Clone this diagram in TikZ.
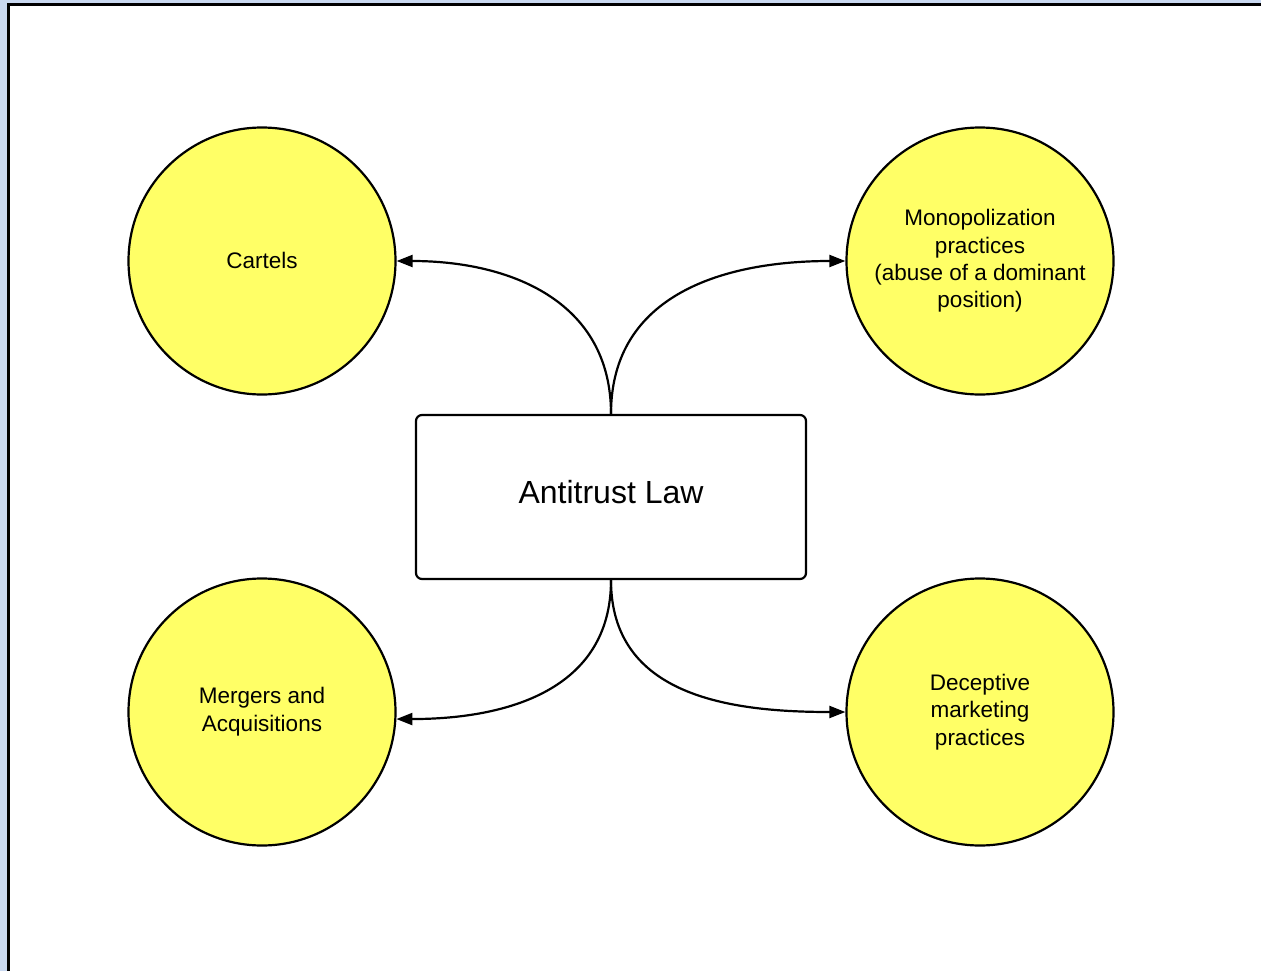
\documentclass[tikz,border=0pt]{standalone}
\usepackage{fontspec}
\setmainfont{Liberation Sans}
\usetikzlibrary{arrows.meta}
\definecolor{frameblue}{RGB}{201,216,240}
\definecolor{bubble}{RGB}{255,255,102}
\tikzset{
  topic/.style={circle, draw=black, line width=2.2pt, fill=bubble, minimum size=267pt, inner sep=0pt,
    align=center, font=\fontsize{22.5}{27.3}\selectfont},
  centerbox/.style={rectangle, rounded corners=6pt, draw=black, line width=2.2pt, fill=white,
    minimum width=390pt, minimum height=164pt, inner sep=0pt, font=\fontsize{32}{36}\selectfont},
  link/.style={line width=2.2pt, -{Triangle[length=16pt, width=12pt]}, looseness=1.1}
}
\begin{document}
\begin{tikzpicture}[x=1pt, y=-1pt]
\useasboundingbox (0,0) rectangle (1261,971);
\fill[frameblue] (0,0) rectangle (1261,971);
\fill[white] (9,5) rectangle (1261,971);
\draw[line width=2.5pt] (8.5,971) -- (8.5,4.5) -- (1261,4.5);

\node[centerbox] (law) at (611,497) {\raisebox{10pt}{Antitrust Law}};
\node[topic] (cart) at (262,261) {\raisebox{2pt}{Cartels}};
\node[topic] (mono) at (980,261) {Monopolization\\practices\\(abuse of a dominant\\position)};
\node[topic] (merg) at (262,712) {\raisebox{3pt}{\begin{tabular}{@{}c@{}}Mergers and\\Acquisitions\end{tabular}}};
\node[topic] (dece) at (980,712) {Deceptive\\marketing\\practices};

\draw[link] (law.north) to[out=90, in=0] (cart.east);
\draw[link] (law.north) to[out=90, in=180] (mono.west);
\draw[link] (law.south) to[out=-90, in=0] (merg.-3.5);
\draw[link] (law.south) to[out=-90, in=180] (dece.west);
\end{tikzpicture}
\end{document}
